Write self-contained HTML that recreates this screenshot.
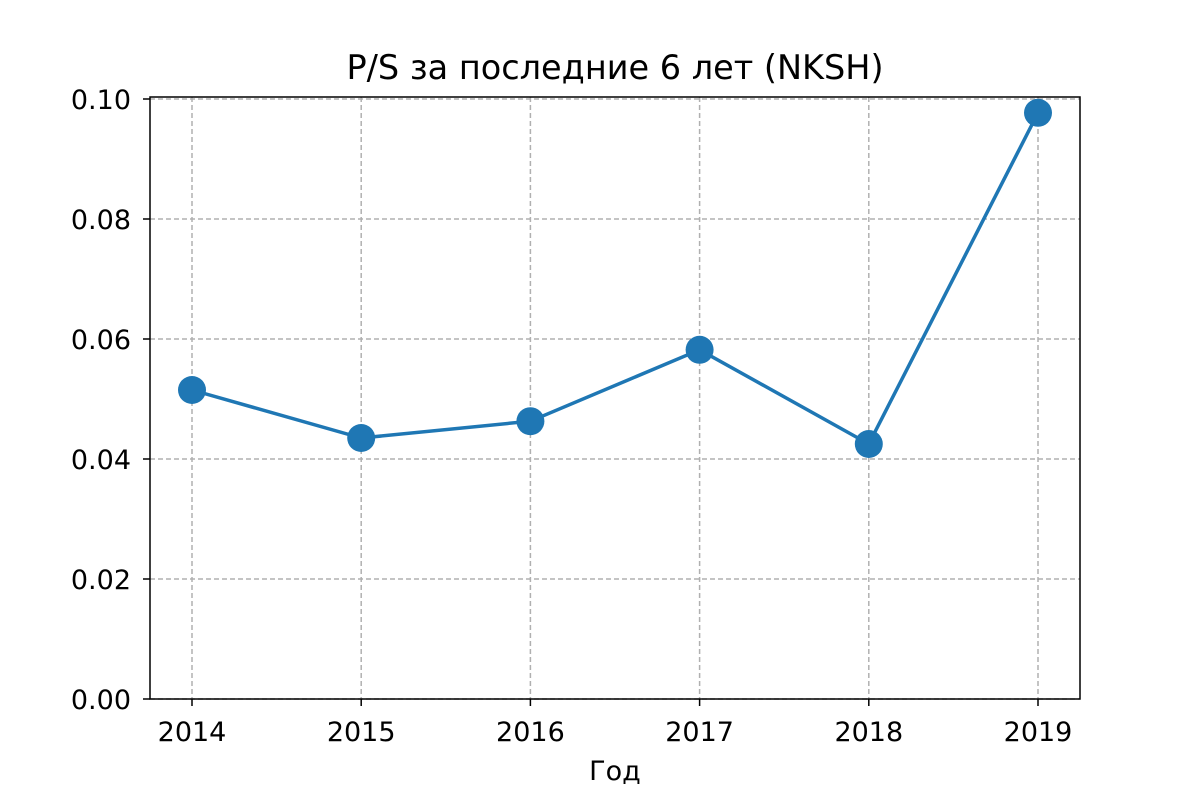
<!DOCTYPE html>
<html><head><meta charset="utf-8"><style>body{margin:0;background:#fff}svg{display:block;font-family:"DejaVu Sans","Liberation Sans",sans-serif}</style></head>
<body>
<svg id="chart" width="1200" height="800">
<text x="615" y="79" text-anchor="middle" font-size="33.5">P/S за последние 6 лет (NKSH)</text>
<g id="grid"></g><g id="ticks"></g><g id="series"></g>
<rect x="150" y="97" width="930" height="602" fill="none" stroke="#000" stroke-width="1.5"/>
<text x="615" y="780" text-anchor="middle" font-size="27">Год</text>
</svg>
<script>
const years = ['2014','2015','2016','2017','2018','2019'];
const values = [0.0515, 0.0435, 0.0463, 0.0582, 0.0425, 0.0977];
const yTicks = [0, 0.02, 0.04, 0.06, 0.08, 0.10];
const yTickLabels = ['0.00','0.02','0.04','0.06','0.08','0.10'];
const NS='http://www.w3.org/2000/svg';
const xs=i=>192+i*(1038-192)/(years.length-1);
const ys=v=>699-v*6000;
function mk(t,a,p){const e=document.createElementNS(NS,t);for(const k in a)e.setAttribute(k,a[k]);p.appendChild(e);return e;}
const grid=document.getElementById('grid'),ticks=document.getElementById('ticks'),series=document.getElementById('series');
years.forEach((y,i)=>{const x=xs(i);
const g=mk('line',{x1:x,x2:x,y1:97,y2:699,stroke:'#b0b0b0','stroke-width':1.5,'stroke-dasharray':'5,3'},grid);


const t=mk('line',{x1:x,x2:x,y1:699,y2:706,stroke:'#000','stroke-width':1.5},ticks);


const l=mk('text',{x:x,y:741,'text-anchor':'middle','font-size':27},ticks);l.textContent=y;


});
yTicks.forEach((v,i)=>{const y=ys(v);
const g=mk('line',{x1:150,x2:1080,y1:y,y2:y,stroke:'#b0b0b0','stroke-width':1.5,'stroke-dasharray':'5,3'},grid);


const t=mk('line',{x1:143,x2:150,y1:y,y2:y,stroke:'#000','stroke-width':1.5},ticks);


const l=mk('text',{x:131,y:y+10,'text-anchor':'end','font-size':27},ticks);l.textContent=yTickLabels[i];


});
const line=mk('polyline',{points:values.map((v,i)=>xs(i)+','+ys(v)).join(' '),fill:'none',stroke:'#1f77b4','stroke-width':3.5},series);


values.forEach((v,i)=>{const c=mk('circle',{cx:xs(i),cy:ys(v),r:14,fill:'#1f77b4'},series);


});
</script>
</body></html>
